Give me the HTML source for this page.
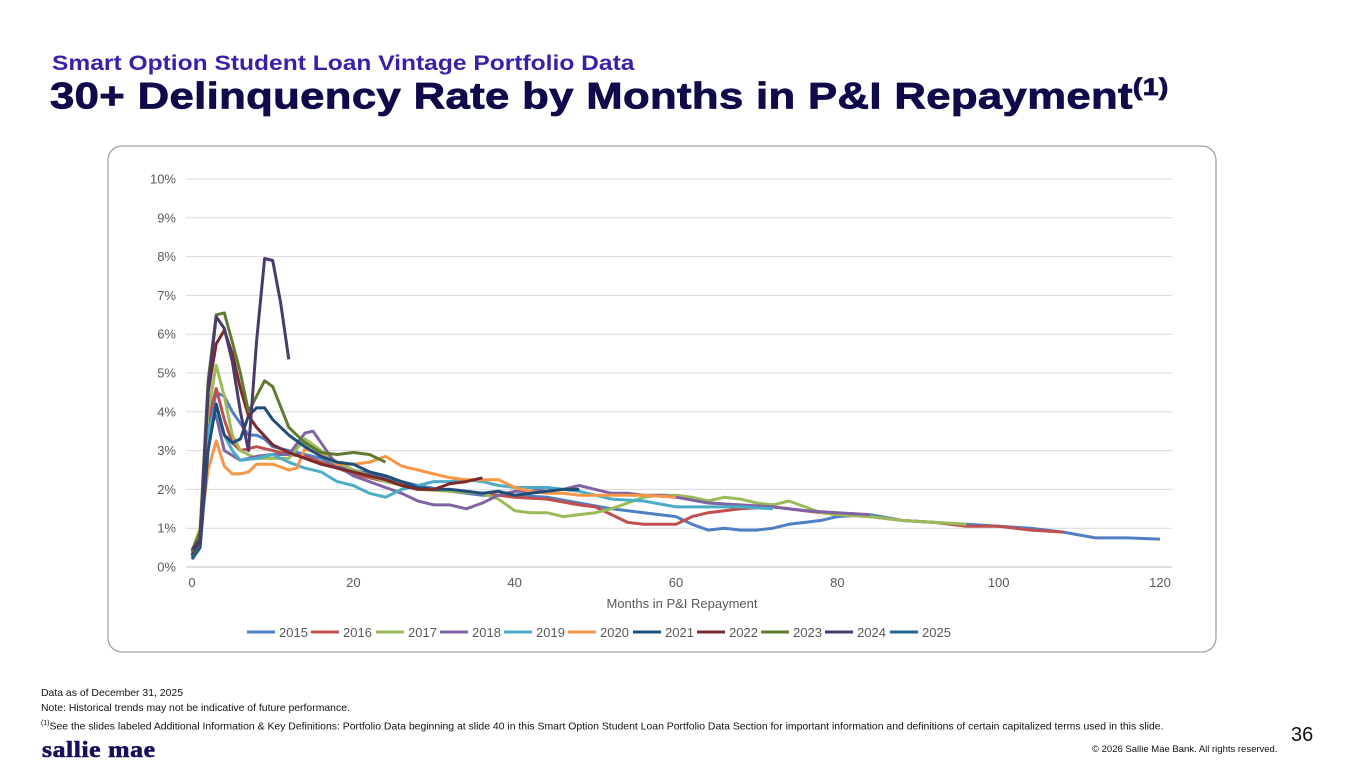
<!DOCTYPE html>
<html><head><meta charset="utf-8"><style>
body{margin:0;width:1365px;height:768px;background:#fff;font-family:"Liberation Sans",Arial,sans-serif;position:relative;overflow:hidden}
.abs{position:absolute}
</style></head><body>
<div class="abs" style="left:52px;top:52px;font-size:21px;font-weight:bold;color:#3a1fa8;transform:scaleX(1.17);transform-origin:left top;white-space:nowrap">Smart Option Student Loan Vintage Portfolio Data</div>
<div class="abs" style="left:50px;top:74px;font-size:37px;font-weight:bold;color:#0f0a4a;letter-spacing:0.3px;transform:scaleX(1.18);transform-origin:left top;white-space:nowrap;-webkit-text-stroke:0.8px #0f0a4a">30+ Delinquency Rate by Months in P&amp;I Repayment<sup style="font-size:24px">(1)</sup></div>
<svg class="abs" style="left:0;top:0" width="1365" height="768" id="chart"></svg>
<div class="abs" style="left:41px;top:686px;font-size:10.5px;line-height:15px;color:#111;transform:scaleX(0.993);transform-origin:left top;white-space:nowrap">Data as of December 31, 2025<br>Note: Historical trends may not be indicative of future performance.<br><sup style="font-size:7px">(1)</sup>See the slides labeled Additional Information &amp; Key Definitions: Portfolio Data beginning at slide 40 in this Smart Option Student Loan Portfolio Data Section for important information and definitions of certain capitalized terms used in this slide.</div>
<div class="abs" style="left:42px;top:737px;font-family:'Liberation Serif',serif;font-weight:bold;font-size:23px;color:#150f5c;letter-spacing:0.5px;transform:scaleX(1.12);transform-origin:left top;white-space:nowrap;-webkit-text-stroke:0.6px #150f5c">sallie mae</div>
<div class="abs" style="left:1291px;top:724px;font-size:20px;color:#111">36</div>
<div class="abs" style="left:1092px;top:744px;font-size:9.5px;color:#111;white-space:nowrap">© 2026 Sallie Mae Bank. All rights reserved.</div>
<script>
const years=["2015","2016","2017","2018","2019","2020","2021","2022","2023","2024","2025"];
const colors=["#4f7fc4","#c0504d","#9bbb59","#8064a2","#4bacc6","#f79646","#1f4e79","#7b2a2a","#5e7b2f","#4b3a6b","#22688a"];
const m2015=[0,1,2,3,4,5,6,7,8,9,10,12,14,16,18,20,24,28,32,36,40,44,48,52,56,60,62,64,66,68,70,72,74,76,78,80,84,88,92,96,100,104,108,112,116,120];
const v2015=[0.3,0.8,3.5,4.5,4.4,4.0,3.7,3.4,3.4,3.3,3.1,3.0,2.9,2.8,2.6,2.5,2.3,2.1,1.95,1.85,1.85,1.8,1.65,1.5,1.4,1.3,1.1,0.95,1.0,0.95,0.95,1.0,1.1,1.15,1.2,1.3,1.35,1.2,1.15,1.1,1.05,1.0,0.9,0.75,0.75,0.72];
const m2016=[0,1,2,3,4,5,6,8,10,12,14,16,20,24,28,32,36,40,44,48,50,52,54,56,58,60,62,64,66,68,72,76,80,84,88,92,96,100,104,108];
const v2016=[0.4,0.9,3.8,4.6,3.8,3.2,3.0,3.1,3.0,2.9,2.85,2.7,2.4,2.2,2.05,1.95,1.9,1.8,1.75,1.6,1.55,1.35,1.15,1.1,1.1,1.1,1.3,1.4,1.45,1.5,1.55,1.45,1.35,1.3,1.2,1.15,1.05,1.05,0.95,0.9];
const m2017=[0,1,2,3,4,5,6,8,10,12,14,16,18,20,24,28,32,36,38,40,42,44,46,48,50,52,54,56,58,60,62,64,66,68,70,72,74,76,78,80,84,88,92,96];
const v2017=[0.4,1.0,4.0,5.2,4.4,3.4,3.0,2.8,2.8,2.8,3.3,3.0,2.7,2.5,2.2,2.0,1.95,1.9,1.75,1.45,1.4,1.4,1.3,1.35,1.4,1.5,1.65,1.8,1.85,1.85,1.8,1.7,1.8,1.75,1.65,1.6,1.7,1.55,1.4,1.35,1.3,1.2,1.15,1.1];
const m2018=[0,1,2,3,4,6,8,10,12,14,15,16,18,20,24,26,28,30,32,34,36,38,40,42,44,46,48,50,52,54,56,58,60,64,68,72,76,80,84];
const v2018=[0.35,0.9,3.6,3.9,3.0,2.75,2.85,2.9,2.9,3.45,3.5,3.2,2.6,2.35,2.05,1.9,1.7,1.6,1.6,1.5,1.65,1.85,1.95,1.95,2.05,2.0,2.1,2.0,1.9,1.9,1.85,1.85,1.8,1.65,1.6,1.55,1.45,1.4,1.35];
const m2019=[0,1,2,3,4,5,6,8,10,12,14,16,18,20,22,24,26,28,30,32,34,36,38,40,44,48,52,56,60,64,68,72];
const v2019=[0.3,0.7,3.5,4.1,3.4,3.0,2.75,2.8,2.9,2.7,2.55,2.45,2.2,2.1,1.9,1.8,2.0,2.1,2.2,2.2,2.25,2.2,2.1,2.05,2.05,1.95,1.75,1.7,1.55,1.55,1.55,1.5];
const m2020=[0,1,2,3,4,5,6,7,8,10,12,13,14,16,18,20,22,24,26,28,30,32,34,36,38,40,42,44,46,48,52,56,60];
const v2020=[0.3,0.9,2.5,3.25,2.6,2.4,2.4,2.45,2.65,2.65,2.5,2.55,3.05,2.9,2.65,2.65,2.7,2.85,2.6,2.5,2.4,2.3,2.25,2.25,2.25,2.05,1.95,1.9,1.9,1.85,1.85,1.85,1.8];
const m2021=[0,1,2,3,4,5,6,7,8,9,10,12,14,16,18,20,22,24,26,28,30,32,34,36,38,40,42,44,46,48];
const v2021=[0.2,0.5,3.0,4.2,3.4,3.2,3.3,3.9,4.1,4.1,3.8,3.4,3.1,2.85,2.7,2.65,2.45,2.35,2.2,2.05,2.0,2.0,1.95,1.9,1.95,1.85,1.9,1.95,2.0,2.0];
const m2022=[0,1,2,3,4,5,6,7,8,10,12,14,16,18,20,22,24,26,28,30,32,34,36];
const v2022=[0.3,0.7,4.5,5.75,6.1,5.5,4.6,3.9,3.6,3.15,2.95,2.8,2.65,2.55,2.45,2.35,2.25,2.1,2.0,2.0,2.15,2.2,2.3];
const m2023=[0,1,2,3,4,5,6,7,8,9,10,12,14,16,18,20,22,24];
const v2023=[0.4,0.9,4.8,6.5,6.55,5.8,5.0,4.0,4.4,4.8,4.65,3.6,3.2,2.95,2.9,2.95,2.9,2.7];
const m2024=[0,1,2,3,4,5,6,7,8,9,10,11,12];
const v2024=[0.45,0.7,4.6,6.45,6.15,5.3,4.0,3.0,5.8,7.95,7.9,6.8,5.35];
const m2025=[0,1];
const v2025=[0.25,0.55];
const months=[m2015,m2016,m2017,m2018,m2019,m2020,m2021,m2022,m2023,m2024,m2025];
const values=[v2015,v2016,v2017,v2018,v2019,v2020,v2021,v2022,v2023,v2024,v2025];
const xTicks=[0,20,40,60,80,100,120];
const yTicks=[0,1,2,3,4,5,6,7,8,9,10];

const NS="http://www.w3.org/2000/svg";
const svg=document.getElementById('chart');
const X=m=>192+m*(1160-192)/120;
const Y=v=>567-v*(567-179)/10;
function mk(tag,attrs){const e=document.createElementNS(NS,tag);for(const k in attrs)e.setAttribute(k,attrs[k]);svg.appendChild(e);return e;}
const box=mk('rect',{x:108,y:146,width:1108,height:506,rx:14,fill:'none',stroke:'#8c8c8c','stroke-width':1});


yTicks.forEach(t=>{
  const l=mk('line',{x1:186,x2:1172,y1:Y(t),y2:Y(t),stroke:t===0?'#bfbfbf':'#d9d9d9','stroke-width':1});
  
  
  const tx=mk('text',{x:176,y:Y(t)+4.5,'text-anchor':'end','font-size':13,fill:'#595959'});
  tx.textContent=t+'%';
  
  
});
xTicks.forEach(t=>{
  const tx=mk('text',{x:X(t),y:587,'text-anchor':'middle','font-size':13,fill:'#595959'});
  tx.textContent=t;
  
  
});
const at=mk('text',{x:682,y:608,'text-anchor':'middle','font-size':13,fill:'#595959'});
at.textContent='Months in P&I Repayment';


years.forEach((y,i)=>{
  const pts=months[i].map((m,j)=>X(m).toFixed(1)+','+Y(values[i][j]).toFixed(1)).join(' ');
  const p=mk('polyline',{points:pts,fill:'none',stroke:colors[i],'stroke-width':3,'stroke-linejoin':'round'});
  
  
});
const lx=[247,311,376,440,504,568,633,697,761,825,890];
years.forEach((y,i)=>{
  const g=mk('line',{x1:lx[i],x2:lx[i]+28,y1:632,y2:632,stroke:colors[i],'stroke-width':3});
  
  
  const t=mk('text',{x:lx[i]+32,y:637,'font-size':13,fill:'#595959'});
  t.textContent=y;
  
  
});
</script>
</body></html>
